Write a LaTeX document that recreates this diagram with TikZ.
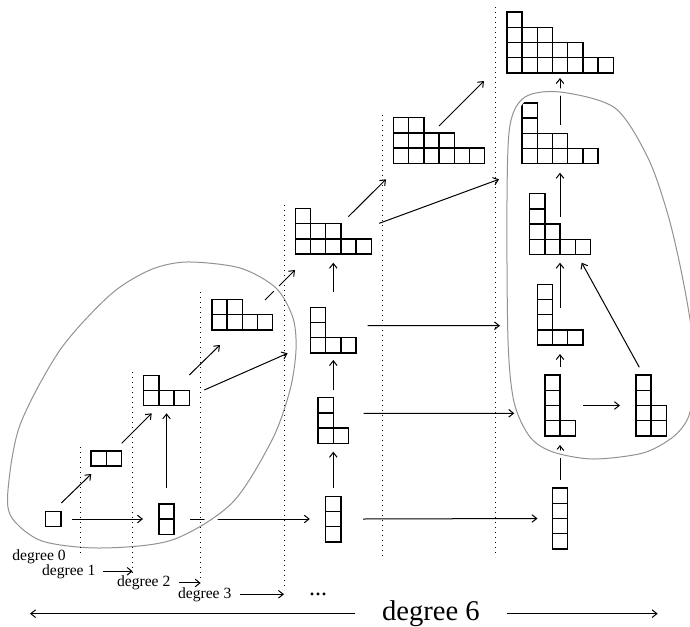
\documentclass[tikz,border=0pt]{standalone}
\usepackage{fontspec}
\setmainfont{Liberation Serif}
\usetikzlibrary{arrows.meta}
\definecolor{blobgray}{RGB}{150,145,145}
\tikzset{
    %Define standard arrow tip
    >={Straight Barb[length=2.4pt,width=3.8pt]},
    %Define style for the cells of a diagram
    cell/.style={
           draw=black,
           line width=0.7pt},
    ydbox/.style={
           rectangle,
           inner sep=0pt,
           outer sep=0pt},
    deg/.style={
           inner sep=0pt,
           font=\fontsize{7.8}{9}\selectfont},
    bigdeg/.style={
           inner sep=0pt,
           font=\fontsize{14.3}{17}\selectfont},
    % Define arrow style
    pil/.style={
           ->,
           line width=0.5pt},
    blob/.style={
           draw=blobgray,
           line width=0.5pt,
           preaction={draw=white, line width=3.6pt}},
    sepline/.style={
           dotted,
           line width=0.5pt}
}
% Young diagram: name, centre x, centre y, row lengths (bottom row first)
\newcommand{\yd}[4]{%
  \foreach \r [count=\i] in {#4}{%
    \ifnum\i=1 \xdef\ydcols{\r}\fi
    \xdef\ydrows{\i}}%
  \node[ydbox, minimum width=\ydcols*7.6pt, minimum height=\ydrows*7.6pt] (#1) at (#2,#3) {};
  \foreach \r [count=\i from 0] in {#4}
    \foreach \c in {1,...,\r}
      \draw[cell] ([shift={({(\c-1)*15.2},{-\i*15.2})}]#1.south west) rectangle ++(15.2,-15.2);
}

\begin{document}
\begin{tikzpicture}[x=0.5pt,y=-0.5pt]
\useasboundingbox (0,0) rectangle (690,626);
% diagrams
\yd{y1}{53.3}{519}{1}
\yd{y2}{106.3}{458.5}{2}
\yd{y11}{166.5}{519}{1,1}
\yd{y31}{166.5}{390.5}{3,1}
\yd{y42}{242.3}{314.7}{4,2}
\yd{y531}{333.3}{231.3}{5,3,1}
\yd{y311}{333.3}{330}{3,1,1}
\yd{y211}{333.3}{420.5}{2,1,1}
\yd{y111}{333.3}{519}{1,1,1}
\yd{y642}{439}{140.5}{6,4,2}
\yd{y7531}{560}{42.5}{7,5,3,1}
\yd{y5311}{560}{133.3}{5,3,1,1}
\yd{y4211}{560}{224}{4,2,1,1}
\yd{y3111}{560}{314.7}{3,1,1,1}
\yd{y2111}{560}{405.5}{2,1,1,1}
\yd{y2211}{651}{405.5}{2,2,1,1}
\yd{y1111}{560}{518.5}{1,1,1,1}
% maps
\draw[pil] ([shift={(8,-16)}]y1.center) -- ([shift={(-15,15.5)}]y2.center);
\draw[pil] ([shift={(19,0)}]y1.center) -- ([shift={(-23.5,0)}]y11.center);
\draw[pil] ([shift={(15.4,-15.2)}]y2.center) -- ([shift={(-14.8,22.8)}]y31.center);
\draw[pil] ([shift={(0,-30.7)}]y11.center) -- ([shift={(0,22.8)}]y31.center);
\draw[pil] ([shift={(22.8,-15.5)}]y31.center) -- ([shift={(-22.3,30.3)}]y42.center);
\draw[pil] ([shift={(37.8,-0.5)}]y31.center) -- ([shift={(-45.7,23.3)}]y311.center);
\draw[pil] ([shift={(22.7,-14.7)}]y42.center) -- ([shift={(-38.3,38.7)}]y531.center);
\draw[pil] ([shift={(23.5,0)}]y11.center) -- ([shift={(-23.5,0)}]y111.center);
\draw[pil] ([shift={(0,-38.3)}]y311.center) -- ([shift={(0,31.4)}]y531.center);
\draw[pil] ([shift={(0,-30.5)}]y211.center) -- ([shift={(0,30)}]y311.center);
\draw[pil] ([shift={(0,-30.7)}]y111.center) -- ([shift={(0,31.2)}]y211.center);
\draw[pil] ([shift={(15,-14.6)}]y531.center) -- ([shift={(-53,38.8)}]y642.center);
\draw[pil] ([shift={(46,-8)}]y531.center) -- ([shift={(-61,46)}]y5311.center);
\draw[pil] ([shift={(34.3,-4.3)}]y311.center) -- ([shift={(-60,11)}]y3111.center);
\draw[pil] ([shift={(29.8,0)}]y111.center) -- ([shift={(-22.5,0)}]y1111.center);
\draw[pil] ([shift={(0,-14.5)}]y642.center) -- ([shift={(-76,38.5)}]y7531.center);
\draw[pil] ([shift={(0,-38.5)}]y1111.center) -- ([shift={(0,39.5)}]y2111.center);
\draw[pil] ([shift={(0,-38.2)}]y2111.center) -- ([shift={(0,39.3)}]y3111.center);
\draw[pil] ([shift={(23.3,0)}]y2111.center) -- ([shift={(-31,0)}]y2211.center);
\draw[pil] ([shift={(-11.7,-38.2)}]y2211.center) -- ([shift={(21.7,38.7)}]y4211.center);
\draw[pil] ([shift={(0,-7)}]y3111.center) -- ([shift={(0,38.7)}]y4211.center);
\draw[pil] ([shift={(0,-7.3)}]y4211.center) -- ([shift={(0,39.4)}]y5311.center);
\draw[pil] ([shift={(0,-8.3)}]y5311.center) -- ([shift={(0,35.5)}]y7531.center);
% the two regions
\draw[blob] plot[smooth cycle] coordinates {(187,262) (240,268) (276,288) (293,318) (296,350) (290,390)
  (272,440) (232,503) (172,540) (100,548) (42,541) (12,518) (8,490) (20,425) (60,350) (110,295) (150,270)};
\draw[blob] plot[smooth cycle] coordinates {(560,92) (615,108) (648,158) (668,215) (682,275) (692,335)
  (693,390) (688,418) (673,437) (643,453) (593,459) (553,452) (530,437) (514,402) (508,340) (507,200)
  (510,125) (525,97)};
\draw[pil] ([shift={(30.3,-7.2)}]y211.center) -- ([shift={(-45.7,7.8)}]y2111.center);
% degree separators
\foreach \x/\ya/\yb in {80/447/557, 132.7/372/573, 200.7/292/581, 284/205/590, 382.3/115/557, 495.7/7/557}
  \draw[sepline] (\x,\ya) -- (\x,\yb);
% labels
\node[deg, anchor=base west] (deg0) at (12,560.7) {degree 0};
\node[deg, anchor=base west] (deg1) at (41.7,575) {degree 1};
\node[deg, anchor=base west] (deg2) at (116.7,586.7) {degree 2};
\node[deg, anchor=base west] (deg3) at (177.7,598) {degree 3};
\node[inner sep=0pt, font=\fontsize{12}{14}\selectfont] (dots) at (318,594.3) {...};
\node[bigdeg, anchor=base west] (deg6) at (381.7,620.5) {degree 6};
\coordinate (e1) at (132.7,571.7);
\coordinate (e2) at (200.7,584);
\coordinate (e3) at (284,594.3);
\coordinate (l6) at (30,615);
\coordinate (r6) at (657.7,615);
\draw[pil, shorten <=3.8pt] (deg1.east) -- (deg1.east -| e1);
\draw[pil, shorten <=4.1pt] (deg2.east) -- (deg2.east -| e2);
\draw[pil, shorten <=4.1pt] (deg3.east) -- (deg3.east -| e3);
\draw[pil, shorten <=13.3pt] (deg6.west) -- (deg6.west -| l6);
\draw[pil, shorten <=13.3pt] (deg6.east) -- (deg6.east -| r6);
\end{tikzpicture}
\end{document}
